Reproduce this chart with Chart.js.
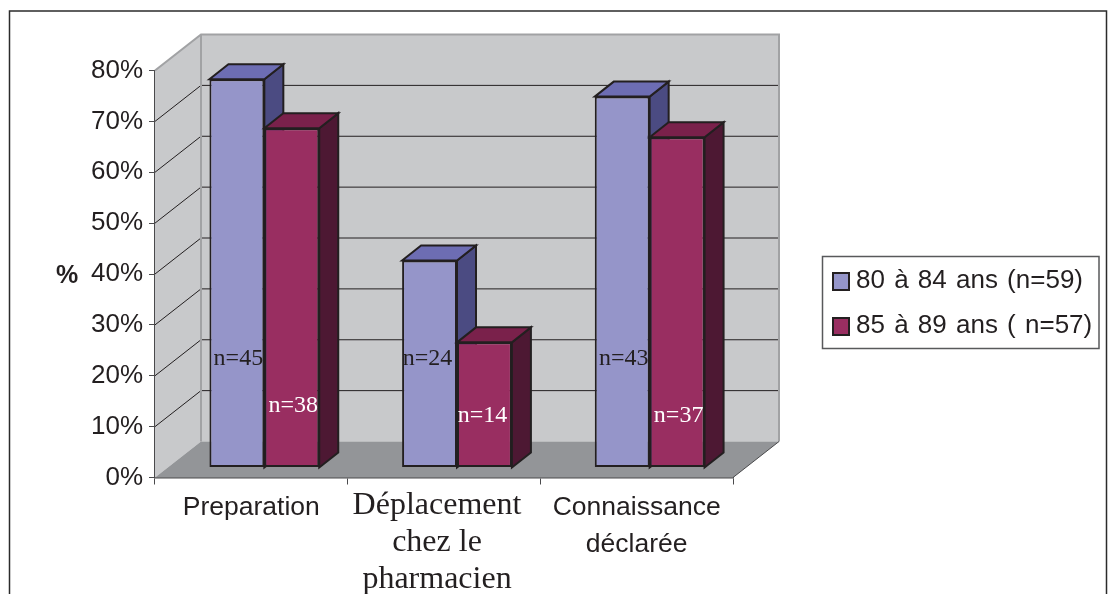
<!DOCTYPE html>
<html><head><meta charset="utf-8">
<style>html,body{margin:0;padding:0;background:#fff;overflow:hidden}canvas{display:block}</style>
<script src="https://cdn.jsdelivr.net/npm/chart.js@4"></script>
</head><body><canvas id="c" width="1111" height="594"></canvas>
<script>
const categories = [["Preparation"], ["Déplacement","chez le","pharmacien"], ["Connaissance","déclarée"]];
const seriesNames = ["80 à 84 ans (n=59)", "85 à 89 ans ( n=57)"];
const values80 = [76.3, 40.7, 72.9];
const values85 = [66.7, 24.6, 64.9];
const counts80 = ["n=45","n=24","n=43"];
const counts85 = ["n=38","n=14","n=37"];
const countLevels80 = [21.3, 21.3, 21.3];
const countLevels85 = [12.1, 10.1, 10.1];
const yTicks = [0,10,20,30,40,50,60,70,80];

const WALL = "#c8c9cb", FLOOR = "#939598", EDGE = "#a1a2a4", INK = "#231f20";
const wallDepth = {x:46, y:36}, barShift = {x:13, y:10}, barDepth = {x:19, y:15};
const faces = [{front:"#9595c9", side:"#4b4b82", top:"#6d6db3", text:"#231f20"},
               {front:"#992e61", side:"#4d1833", top:"#7a214b", text:"#ffffff"}];

function poly(ctx, pts, fill, stroke, lw){
  ctx.beginPath();
  pts.forEach((p,i)=> i? ctx.lineTo(p[0],p[1]) : ctx.moveTo(p[0],p[1]));
  ctx.closePath();
  if(fill){ctx.fillStyle=fill;ctx.fill();}
  if(stroke){ctx.strokeStyle=stroke;ctx.lineWidth=lw||1;ctx.stroke();}
}

const scene = {
  id:"scene",
  beforeDraw(chart){
    const {ctx, width, height} = chart;
    ctx.save();
    ctx.fillStyle="#fff"; ctx.fillRect(0,0,width,height);
    ctx.strokeStyle="#2b2b2b"; ctx.lineWidth=1.5;
    ctx.beginPath(); ctx.moveTo(9.5,height); ctx.lineTo(9.5,11); ctx.lineTo(1106.5,11); ctx.lineTo(1106.5,height); ctx.stroke();
    ctx.restore();
    // the middle, serif category label sits a little left of its slot in the original
    const items = chart.scales.x.getLabelItems();
    if(items[1] && !items[1].shifted){
      items[1].options.translation[0]-=7;
      items[1].options.translation[1]-=2;
      items[1].shifted=true;
    }
  },
  beforeDatasetsDraw(chart){
    const {ctx, scales:{x,y}} = chart;
    const L=x.left, R=x.right, T=y.getPixelForValue(80), B=y.getPixelForValue(0);
    const dx=wallDepth.x, dy=wallDepth.y;
    ctx.save();
    poly(ctx,[[L,B],[L,T],[L+dx,T-dy],[L+dx,B-dy]],WALL);
    poly(ctx,[[L+dx,B-dy],[L+dx,T-dy],[R+dx,T-dy],[R+dx,B-dy]],WALL);
    poly(ctx,[[L,B],[L+dx,B-dy],[R+dx,B-dy],[R,B]],FLOOR);
    ctx.strokeStyle=INK; ctx.lineWidth=1;
    yTicks.slice(1,-1).forEach(v=>{
      const p=y.getPixelForValue(v);
      ctx.beginPath(); ctx.moveTo(L,p); ctx.lineTo(L+dx,p-dy); ctx.lineTo(R+dx,p-dy); ctx.stroke();
    });
    ctx.strokeStyle=EDGE; ctx.lineWidth=2;
    ctx.beginPath(); ctx.moveTo(L,T); ctx.lineTo(L+dx,T-dy); ctx.lineTo(R+dx,T-dy); ctx.lineTo(R+dx,B-dy); ctx.stroke();
    ctx.beginPath(); ctx.moveTo(L+dx,T-dy); ctx.lineTo(L+dx,B-dy); ctx.stroke();
    ctx.strokeStyle="#4a4a4c"; ctx.lineWidth=1;
    ctx.beginPath(); ctx.moveTo(R,B); ctx.lineTo(R+dx,B-dy); ctx.stroke();
    ctx.restore();
  },
  beforeDatasetDraw(){ return false; },
  afterDatasetsDraw(chart){
    const {ctx, scales:{y}} = chart;
    const base = y.getPixelForValue(0), d = barDepth;
    [0,1].forEach(index=>{
      const f = faces[index], meta = chart.getDatasetMeta(index);
      const texts = index===0?counts80:counts85, lv = index===0?countLevels80:countLevels85;
      ctx.save();
      ctx.translate(barShift.x,-barShift.y);
      meta.data.forEach(b=>{
        const l=b.x-b.width/2, r=b.x+b.width/2, t=b.y;
        poly(ctx,[[r,base],[r,t],[r+d.x,t-d.y],[r+d.x,base-d.y]],f.side,INK,2);
        poly(ctx,[[l,t],[l+d.x,t-d.y],[r+d.x,t-d.y],[r,t]],f.top,INK,2);
      });
      meta.controller.draw();
      ctx.font='24px "Liberation Serif"'; ctx.textAlign="center"; ctx.textBaseline="middle"; ctx.fillStyle=f.text;
      meta.data.forEach((b,i)=> ctx.fillText(texts[i], b.x+(i===1?-2:1.5), y.getPixelForValue(lv[i])));
      ctx.restore();
    });
  },
  afterDraw(chart){
    const {ctx} = chart;
    ctx.save();
    ctx.fillStyle="#231f20"; ctx.textBaseline="alphabetic"; ctx.textAlign="left";
    ctx.font='bold 25px "Liberation Sans"'; ctx.fillText("%",56,283);
    ctx.strokeStyle="#58595b"; ctx.lineWidth=1.5; ctx.strokeRect(822.5,256.5,276.5,92);
    ctx.font='26px "Liberation Sans"'; ctx.wordSpacing="2px";
    seriesNames.forEach((s,i)=>{
      const yy=[273,318][i];
      ctx.fillStyle=faces[i].front; ctx.strokeStyle=INK; ctx.lineWidth=2;
      ctx.fillRect(833,yy,16,17); ctx.strokeRect(833,yy,16,17);
      ctx.fillStyle="#231f20"; ctx.fillText(s,856,yy+15);
    });
    ctx.restore();
  }
};

new Chart(document.getElementById("c"),{
  type:"bar",
  data:{labels:categories,datasets:[
    {label:seriesNames[0],data:values80,backgroundColor:faces[0].front,borderColor:INK,borderWidth:2,borderSkipped:false,clip:false},
    {label:seriesNames[1],data:values85,backgroundColor:faces[1].front,borderColor:INK,borderWidth:2,borderSkipped:false,clip:false}
  ]},
  options:{
    responsive:false,animation:false,devicePixelRatio:1,
    layout:{padding:{top:70.5,right:378,left:0,bottom:0}},
    categoryPercentage:0.57,barPercentage:1,
    plugins:{legend:{display:false},tooltip:{enabled:false},title:{display:false}},
    scales:{
      x:{
        afterFit(s){s.height=594-477.5;},
        grid:{drawOnChartArea:false,tickLength:7,color:"#4a4a4c",offset:true},
        border:{color:"#4a4a4c",width:1.5},
        ticks:{autoSkip:false,maxRotation:0,minRotation:0,padding:5,color:"#231f20",
          font:c=>c.index===1?{family:'"Liberation Serif"',size:32,lineHeight:37/32}:{family:'"Liberation Sans"',size:26.5,lineHeight:37/26.5}}
      },
      y:{
        min:0,max:80,
        afterFit(s){s.width=155;},
        afterBuildTicks(s){s.ticks=yTicks.map(v=>({value:v}));},
        grid:{drawOnChartArea:false,tickLength:6,color:"#4a4a4c"},
        border:{color:"#4a4a4c",width:1.5},
        ticks:{padding:6,color:"#231f20",font:{family:'"Liberation Sans"',size:26},callback:v=>v+"%"}
      }
    }
  },
  plugins:[scene]
});
</script></body></html>
